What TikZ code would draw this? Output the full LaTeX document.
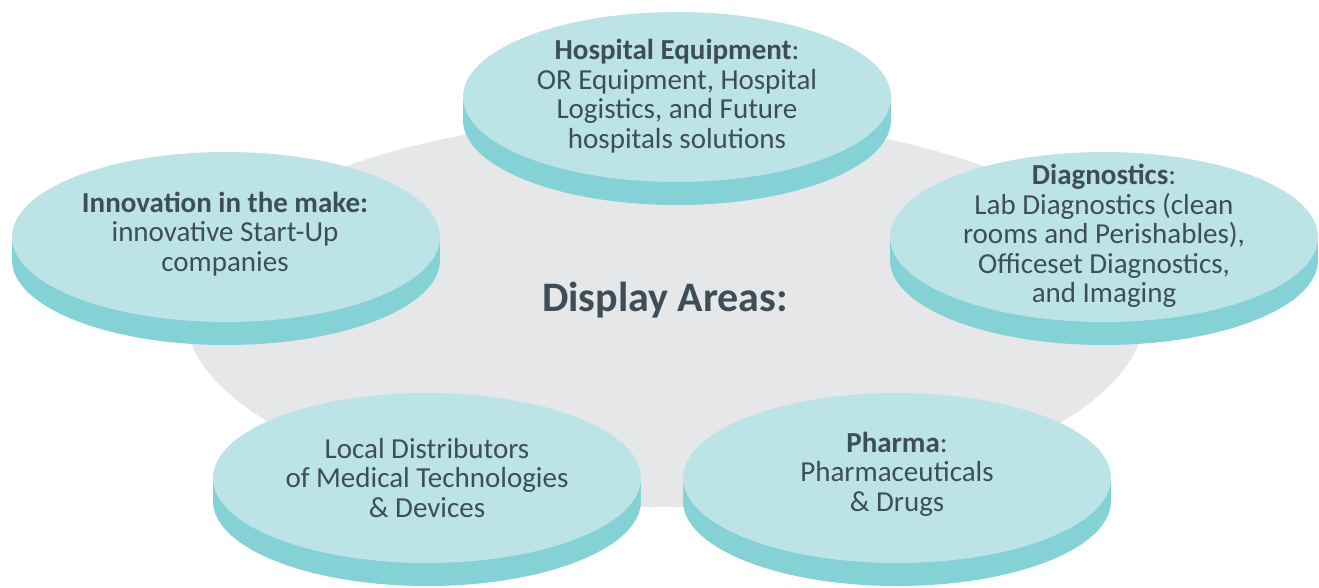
\documentclass[tikz,border=0pt]{standalone}
\usepackage{fontspec}
\setmainfont{Carlito}
\definecolor{facec}{HTML}{BCE3E5}
\definecolor{sidec}{HTML}{84D1D6}
\definecolor{greyc}{HTML}{E6E7E8}
\definecolor{txtc}{HTML}{3E4E58}
\newcommand\mydisc[2]{%
  \fill[sidec] (#1,#2+23) ellipse [x radius=214pt, y radius=85pt];
  \fill[sidec] (#1-214,#2) rectangle (#1+214,#2+23);
  \fill[facec] (#1,#2) ellipse [x radius=214pt, y radius=85pt];
}
\begin{document}
\begin{tikzpicture}[x=1pt,y=-1pt,
  lbl/.style={align=center,text=txtc,font=\fontsize{29}{29.5}\selectfont,inner sep=0pt}]
\useasboundingbox (0,0) rectangle (1319,588);
\fill[greyc] (665,312) ellipse [x radius=480pt, y radius=195pt];
\node[text=txtc,font=\bfseries\fontsize{42}{46}\selectfont,anchor=base,inner sep=0pt] (title) at (665,311) {Display Areas:};
\mydisc{677}{97}
\mydisc{226}{237}
\mydisc{1104}{237}
\mydisc{427}{478}
\mydisc{897}{478}
\node[lbl] (hosp) at (677,96) {\textbf{Hospital Equipment}:\\OR Equipment, Hospital\\Logistics, and Future\\hospitals solutions};
\node[lbl] (innov) at (225,234) {\textbf{Innovation in the make:}\\innovative Start-Up\\companies};
\node[lbl] (diag) at (1104,236) {\textbf{Diagnostics}:\\Lab Diagnostics (clean\\rooms and Perishables),\\Officeset Diagnostics,\\and Imaging};
\node[lbl] (local) at (427,478) {Local Distributors\\of Medical Technologies\\\& Devices};
\node[lbl] (pharma) at (897,474) {\textbf{Pharma}:\\Pharmaceuticals\\\& Drugs};
\end{tikzpicture}
\end{document}
